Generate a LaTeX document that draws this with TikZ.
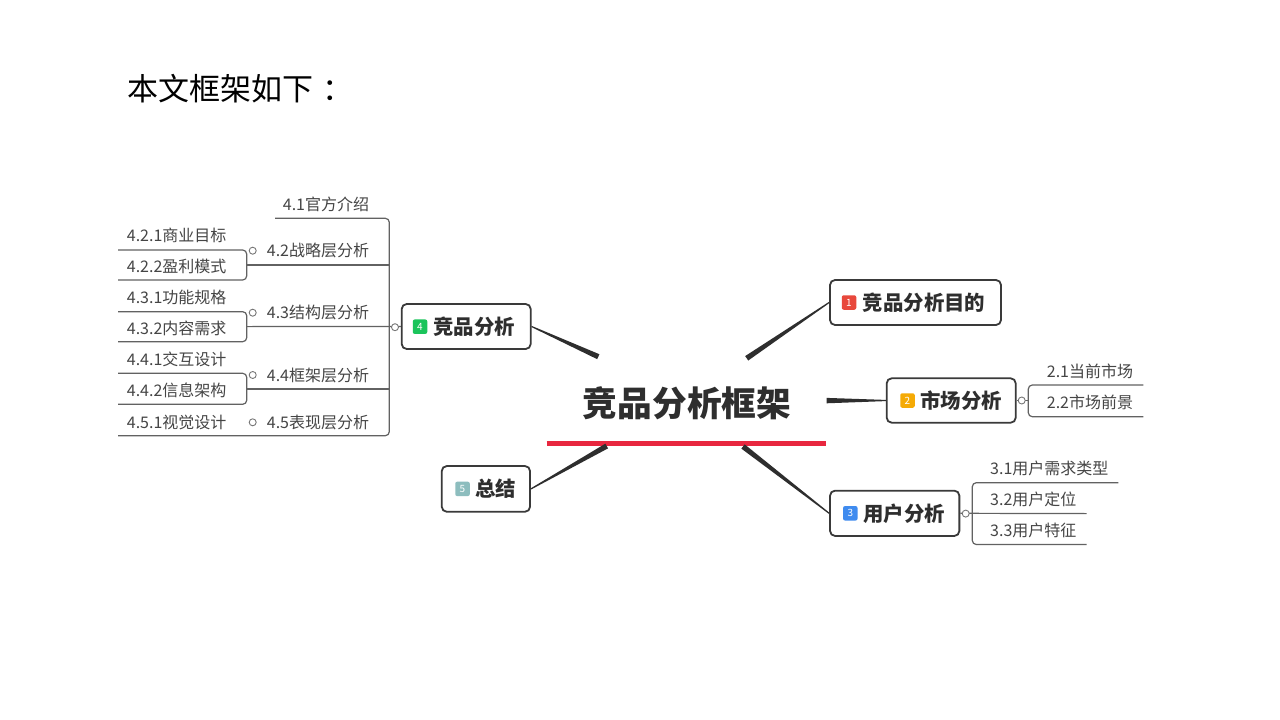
\documentclass[tikz,border=0pt]{standalone}
\usepackage{fontspec}
\setmainfont{Noto Sans CJK SC}
\usetikzlibrary{calc}
\definecolor{ink}{HTML}{2E2E2E}
\definecolor{boxc}{HTML}{3A3A3A}
\definecolor{subc}{HTML}{454545}
\definecolor{linec}{HTML}{626262}
\definecolor{knobc}{HTML}{777777}
\definecolor{redline}{HTML}{E8273F}
\definecolor{bred}{HTML}{E8483C}
\definecolor{borange}{HTML}{F5AA05}
\definecolor{bblue}{HTML}{3F8BEF}
\definecolor{bgreen}{HTML}{1BC45B}
\definecolor{bteal}{HTML}{8DBDBE}
\newcommand\taperline[2]{\fill[branchfill] ($(#1)!2.7pt!90:(#2)$) -- ($(#2)!0.6pt!-90:(#1)$) -- ($(#2)!0.6pt!90:(#1)$) -- ($(#1)!2.7pt!-90:(#2)$) -- cycle;}
\tikzset{
  topic/.style={draw=boxc, line width=1.8pt, rounded corners=5pt, fill=white, inner sep=0pt},
  ttext/.style={anchor=west, inner sep=0pt, font=\fontsize{20.4}{24}\selectfont\bfseries, text=ink},
  badge/.style={fill=#1, rounded corners=2pt, minimum size=14.5pt, inner sep=0pt, text=white, font=\fontsize{10}{10}\selectfont},
  sub/.style={inner sep=0pt, font=\fontsize{16}{19}\selectfont, text=subc},
  subl/.style={draw=linec, line width=1.2pt, rounded corners=4pt},
  knob/.style={circle, draw=knobc, line width=0.9pt, fill=white, minimum size=7pt, inner sep=0pt},
  branchfill/.style={fill=ink},
}
\begin{document}
\begin{tikzpicture}[x=1pt,y=-1pt]
\useasboundingbox[fill=white] (0,0) rectangle (1280,720);

% title
\node[anchor=west, inner sep=0pt, font=\fontsize{31}{36}\selectfont, text=black] (title) at (127,89) {本文框架如下\hspace{9pt}：};

% central topic
\node[inner sep=0pt, font=\fontsize{34.7}{40}\selectfont\bfseries, text=ink] (root) at (687,403) {竞品分析框架};
\coordinate (ul1) at (546.7,443);
\coordinate (ul2) at (826,443);
\draw[line width=5pt, draw=redline] (ul1) -- (ul2);

% main topics
\node[topic, minimum width=171pt, minimum height=45pt] (n1) at (915.5,302.5) {};
\node[badge=bred] (b1) at (849,302.5) {1};
\node[ttext] (t1) at (862.7,302.5) {竞品分析目的};

\node[topic, minimum width=129pt, minimum height=44.4pt] (n2) at (951.2,400.5) {};
\node[badge=borange] (b2) at (907.5,400.5) {2};
\node[ttext] (t2) at (920,400.5) {市场分析};

\node[topic, minimum width=129.3pt, minimum height=45.3pt] (n3) at (894.7,513.3) {};
\node[badge=bblue] (b3) at (850.3,513.3) {3};
\node[ttext] (t3) at (863.3,513.3) {用户分析};

\node[topic, minimum width=129pt, minimum height=45pt] (n4) at (466.2,326.5) {};
\node[badge=bgreen] (b4) at (420,326.7) {4};
\node[ttext] (t4) at (433.3,326.5) {竞品分析};

\node[topic, minimum width=88.3pt, minimum height=45.7pt] (n5) at (485.9,488.9) {};
\node[badge=bteal] (b5) at (462.5,488.9) {5};
\node[ttext] (t5) at (475,488.9) {总结};

% tapered branches
\coordinate (s1) at (746.7,358.3);
\coordinate (s2) at (826.7,400.6);
\coordinate (s3) at (743,446.5);
\coordinate (s4) at (598.3,356.7);
\coordinate (s5) at (606.7,446);
\taperline{s1}{n1.west}
\taperline{s2}{n2.west}
\taperline{s3}{n3.west}
\taperline{s4}{n4.east}
\taperline{s5}{n5.east}

% ---------- left subtopics ----------
\draw[subl] (118,435.7) -- (389.3,435.7) -- (389.3,218.3) -- (275,218.3);
\draw[subl] (246.7,265) -- (389.3,265);
\draw[subl] (246.7,326.6) -- (n4.west);
\draw[subl] (246.7,389) -- (389.3,389);
\draw[subl] (118,250) -- (246.7,250) -- (246.7,280) -- (118,280);
\draw[subl] (118,311.7) -- (246.7,311.7) -- (246.7,341.7) -- (118,341.7);
\draw[subl] (118,373.3) -- (246.7,373.3) -- (246.7,404.3) -- (118,404.3);

\node[sub, anchor=east] (s41) at (369.3,204) {4.1官方介绍};
\node[sub, anchor=east] (s42) at (369.3,250.7) {4.2战略层分析};
\node[sub, anchor=east] (s43) at (369.3,312.7) {4.3结构层分析};
\node[sub, anchor=east] (s44) at (369.3,375) {4.4框架层分析};
\node[sub, anchor=east] (s45) at (369.3,422.3) {4.5表现层分析};

\node[sub, anchor=west] (s421) at (126.7,235.7) {4.2.1商业目标};
\node[sub, anchor=west] (s422) at (126.7,266.7) {4.2.2盈利模式};
\node[sub, anchor=west] (s431) at (126.7,297.7) {4.3.1功能规格};
\node[sub, anchor=west] (s432) at (126.7,328.3) {4.3.2内容需求};
\node[sub, anchor=west] (s441) at (126.7,359.3) {4.4.1交互设计};
\node[sub, anchor=west] (s442) at (126.7,390) {4.4.2信息架构};
\node[sub, anchor=west] (s451) at (126.7,422.3) {4.5.1视觉设计};

\node[knob] (k4) at (395,327.2) {};
\node[knob] (k42) at (252.7,250.7) {};
\node[knob] (k43) at (252.7,312.7) {};
\node[knob] (k44) at (252.7,375) {};
\node[knob] (k45) at (252.7,422.3) {};

% ---------- right subtopics ----------
\draw[subl] (n2.east) -- (1028.3,400.5);
\draw[subl] (1143.3,385) -- (1028.3,385) -- (1028.3,416.7) -- (1143.3,416.7);
\node[sub, anchor=west] (s21) at (1046.7,371) {2.1当前市场};
\node[sub, anchor=west] (s22) at (1046.7,402.3) {2.2市场前景};
\node[knob] (k2) at (1021.7,400.5) {};

\draw[subl] (n3.east) -- (1086.7,513.6);
\draw[subl] (1118.3,482.7) -- (972.3,482.7) -- (972.3,544.5) -- (1086.7,544.5);
\node[sub, anchor=west] (s31) at (990,468.3) {3.1用户需求类型};
\node[sub, anchor=west] (s32) at (990,499.3) {3.2用户定位};
\node[sub, anchor=west] (s33) at (990,530) {3.3用户特征};
\node[knob] (k3) at (965.7,513.6) {};
\end{tikzpicture}
\end{document}
